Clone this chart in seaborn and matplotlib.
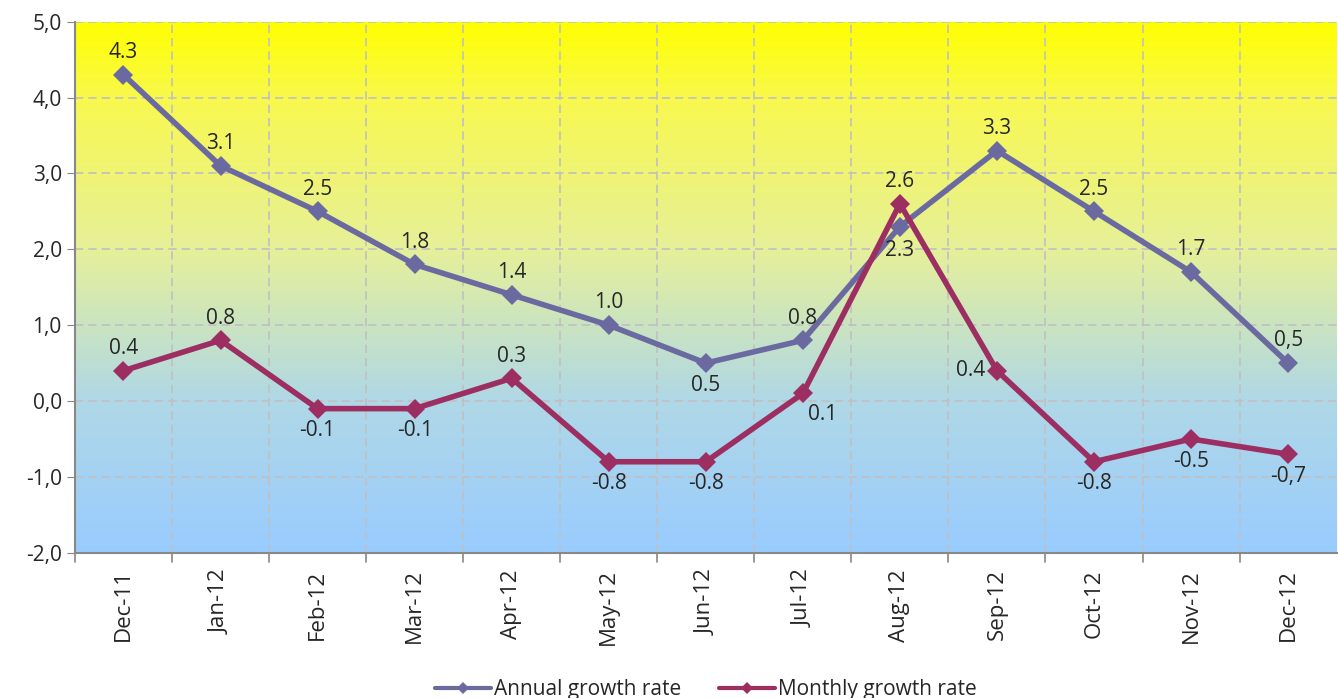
import numpy as np
import pandas as pd
import seaborn as sns
import matplotlib.pyplot as plt
from matplotlib.colors import LinearSegmentedColormap

# data
months = ["Dec-11", "Jan-12", "Feb-12", "Mar-12", "Apr-12", "May-12", "Jun-12",
          "Jul-12", "Aug-12", "Sep-12", "Oct-12", "Nov-12", "Dec-12"]
annual = [4.3, 3.1, 2.5, 1.8, 1.4, 1.0, 0.5, 0.8, 2.3, 3.3, 2.5, 1.7, 0.5]
monthly = [0.4, 0.8, -0.1, -0.1, 0.3, -0.8, -0.8, 0.1, 2.6, 0.4, -0.8, -0.5, -0.7]
annual_labels = ["4.3", "3.1", "2.5", "1.8", "1.4", "1.0", "0.5", "0.8", "2.3",
                 "3.3", "2.5", "1.7", "0,5"]
monthly_labels = ["0.4", "0.8", "-0.1", "-0.1", "0.3", "-0.8", "-0.8", "0.1",
                  "2.6", "0.4", "-0.8", "-0.5", "-0,7"]
y_ticks = [-2, -1, 0, 1, 2, 3, 4, 5]
y_tick_labels = ["-2,0", "-1,0", "0,0", "1,0", "2,0", "3,0", "4,0", "5,0"]

series_names = ["Annual growth rate", "Monthly growth rate"]
colors = {"Annual growth rate": "#6A6AA0", "Monthly growth rate": "#9C2E62"}

df = pd.DataFrame({
    "month": months * 2,
    "x": list(range(len(months))) * 2,
    "value": annual + monthly,
    "series": [series_names[0]] * len(months) + [series_names[1]] * len(months),
})

sns.set_style("white")
plt.rcParams["font.family"] = ["Open Sans", "DejaVu Sans"]
FS = 15

fig = plt.figure(figsize=(13.38, 6.98), dpi=100)
ax = fig.add_axes([0.056, 0.208, 0.943, 0.761])

# gradient background, yellow at the top to light blue at the bottom
cmap = LinearSegmentedColormap.from_list(
    "bg", [(0.0, "#99CCFF"), (0.29, "#B0D8E6"), (0.57, "#E6F09A"),
           (0.85, "#F8F850"), (1.0, "#FFFF00")])
grad = np.linspace(0, 1, 256).reshape(-1, 1)
ax.imshow(grad, cmap=cmap, aspect="auto", origin="lower",
          extent=[-0.5, len(months) - 0.5, -2, 5], zorder=0)

sns.lineplot(data=df, x="x", y="value", hue="series", palette=colors,
             marker="D", markersize=10, markeredgewidth=0, linewidth=4,
             ax=ax, zorder=3, legend=True)

# data labels
annual_off = {6: (0, -16), 8: (0, -17)}
for i, (v, t) in enumerate(zip(annual, annual_labels)):
    dx, dy = annual_off.get(i, (0, 16))
    ax.annotate(t, (i, v), xytext=(dx, dy), textcoords="offset points",
                ha="center", va="center", fontsize=FS, zorder=5)

monthly_off = {0: (0, 16), 1: (0, 16), 4: (0, 16), 8: (0, 16),
               7: (14, -15), 9: (-19, 0)}
for i, (v, t) in enumerate(zip(monthly, monthly_labels)):
    dx, dy = monthly_off.get(i, (0, -16))
    ax.annotate(t, (i, v), xytext=(dx, dy), textcoords="offset points",
                ha="center", va="center", fontsize=FS, zorder=5)

ax.set_xlim(-0.5, len(months) - 0.5)
ax.set_ylim(-2, 5)
ax.set_yticks(y_ticks)
ax.set_yticklabels(y_tick_labels, fontsize=FS)
ax.set_xticks(range(len(months)))
ax.set_xticklabels(months, rotation=90, fontsize=FS + 1)
ax.tick_params(axis="x", length=0, pad=12)
ax.tick_params(axis="y", length=6, color="#888888", left=True)
ax.set_xlabel("")
ax.set_ylabel("")

# grid: dashed lines at category boundaries and y ticks
for xb in np.arange(0.5, len(months) - 0.5, 1):
    ax.axvline(xb, color="#C0C0C0", linestyle=(0, (5, 3)), linewidth=1.2, zorder=1)
    ax.plot([xb, xb], [-2, -2.12], color="#888888", lw=1.2, clip_on=False)
ax.plot([-0.5, -0.5], [-2, -2.12], color="#888888", lw=1.2, clip_on=False)
for yv in y_ticks:
    ax.axhline(yv, color="#C0C0C0", linestyle=(0, (5, 3)), linewidth=1.2, zorder=1)

for s in ["top", "right"]:
    ax.spines[s].set_visible(False)
for s in ["left", "bottom"]:
    ax.spines[s].set_color("#888888")
    ax.spines[s].set_linewidth(1.5)

leg = ax.legend(loc="center", bbox_to_anchor=(0.5, -0.258), ncol=2,
                frameon=False, fontsize=FS, handlelength=2.7,
                columnspacing=1.8, handletextpad=0.15)
for h in leg.legend_handles:
    h.set_markersize(6)
    h.set_linewidth(3)

fig.savefig("out.png", dpi=100)
